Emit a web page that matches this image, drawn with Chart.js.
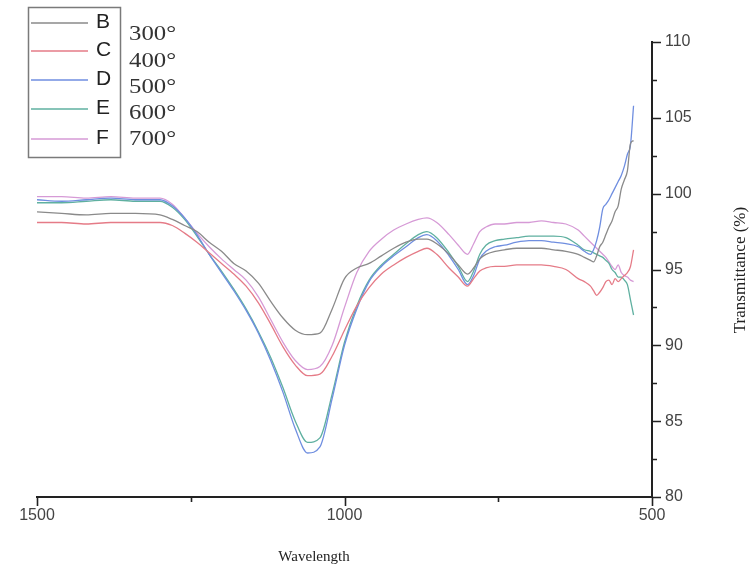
<!DOCTYPE html>
<html>
<head>
<meta charset="utf-8">
<script src="https://cdn.jsdelivr.net/npm/chart.js@4.4.1/dist/chart.umd.min.js"></script>
<style>
  html, body { margin: 0; padding: 0; background: #fff; }
  #wrap { width: 751px; height: 573px; }
</style>
</head>
<body>
<div id="wrap"><canvas id="c" width="751" height="573"></canvas></div>
<script>
'use strict';

// wavelengths (x) shared by every series
const wavelengths = [1500, 1460, 1420, 1380, 1340, 1300, 1280, 1260, 1240, 1220, 1200,
  1180, 1160, 1140, 1120, 1100, 1080, 1060, 1040, 1020, 1000,
  980, 960, 940, 920, 900, 880, 866, 850, 830, 815,
  800, 790, 780, 770, 755, 740, 720, 700, 680, 660,
  640, 620, 610, 600, 595, 590, 585, 580, 575, 570,
  565, 560, 555, 550, 545, 540, 535, 530];

const seriesB = [98.8, 98.7, 98.6, 98.7, 98.7, 98.6, 98.3, 97.9, 97.5, 96.8, 96.2,
  95.4, 94.9, 94.1, 92.9, 91.8, 91.0, 90.7, 90.8, 92.4, 94.4,
  95.1, 95.4, 95.9, 96.4, 96.8, 97.0, 97.0, 96.7, 96.0, 95.3,
  94.7, 95.1, 95.7, 96.0, 96.2, 96.3, 96.4, 96.4, 96.4, 96.3,
  96.2, 96.0, 95.8, 95.6, 95.5, 95.9, 96.5, 96.8, 97.3, 97.8,
  98.2, 98.8, 99.2, 100.3, 100.9, 101.5, 103.3, 103.5];

const seriesC = [98.1, 98.1, 98.0, 98.1, 98.1, 98.1, 97.9, 97.4, 96.8, 96.1, 95.4,
  94.7, 93.9, 92.8, 91.4, 89.9, 88.7, 88.0, 88.1, 89.3, 91.0,
  92.6, 93.8, 94.7, 95.3, 95.8, 96.2, 96.4, 96.0, 95.1, 94.5,
  93.9, 94.4, 94.9, 95.1, 95.2, 95.2, 95.3, 95.3, 95.3, 95.2,
  95.0, 94.4, 94.2, 93.9, 93.6, 93.3, 93.5, 93.8, 94.2, 94.3,
  94.0, 94.4, 94.2, 94.4, 94.6, 94.8, 95.2, 96.3];

const seriesD = [99.6, 99.5, 99.6, 99.7, 99.6, 99.6, 99.2, 98.4, 97.3, 96.0, 94.8,
  93.6, 92.3, 90.8, 89.0, 86.9, 84.5, 82.9, 83.3, 86.5, 90.0,
  92.4, 94.2, 95.2, 95.9, 96.5, 97.1, 97.3, 96.9, 95.9, 95.0,
  94.0, 94.6, 95.7, 96.2, 96.5, 96.6, 96.8, 96.9, 96.9, 96.8,
  96.7, 96.5, 96.2, 96.0, 96.3, 96.9, 97.8, 99.0, 99.3, 99.6,
  100.0, 100.4, 100.8, 101.2, 101.8, 102.6, 103.2, 105.8];

const seriesE = [99.4, 99.4, 99.5, 99.6, 99.5, 99.5, 99.1, 98.3, 97.2, 96.0, 94.9,
  93.7, 92.4, 90.9, 89.2, 87.2, 85.0, 83.6, 83.9, 86.8, 90.2,
  92.6, 94.3, 95.3, 96.0, 96.7, 97.3, 97.5, 97.1, 96.1, 95.2,
  94.2, 94.9, 96.0, 96.6, 96.9, 97.0, 97.1, 97.2, 97.2, 97.2,
  97.1, 96.6, 96.3, 96.2, 96.1, 96.0, 95.9, 95.8, 95.6, 95.4,
  95.0, 94.8, 94.5, 94.5, 94.3, 94.0, 93.0, 92.0];

const seriesF = [99.8, 99.8, 99.7, 99.8, 99.7, 99.7, 99.3, 98.4, 97.4, 96.5, 95.7,
  95.0, 94.3, 93.2, 91.7, 90.2, 89.0, 88.4, 88.6, 90.0, 92.5,
  94.8, 96.2, 97.0, 97.6, 98.0, 98.3, 98.4, 98.1, 97.3, 96.6,
  96.0, 96.7, 97.5, 97.8, 98.0, 98.0, 98.1, 98.1, 98.2, 98.1,
  98.0, 97.6, 97.2, 96.8, 96.6, 96.4, 96.2, 96.0, 95.8, 95.5,
  95.2, 95.0, 95.3, 94.8, 94.6, 94.5, 94.3, 94.2];

const seriesNames = ['B', 'C', 'D', 'E', 'F'];
const seriesTemps = ['300°', '400°', '500°', '600°', '700°'];
const seriesColors = ['#8a8a8a', '#e57b87', '#6f8ee0', '#5fb0a0', '#d69ad6'];

const xLabels = [1500, 1000, 500];
const yLabels = [80, 85, 90, 95, 100, 105, 110];

const allSeries = [seriesB, seriesC, seriesD, seriesE, seriesF];

const datasets = allSeries.map((vals, i) => ({
  label: seriesNames[i],
  data: wavelengths.map((w, j) => ({ x: w, y: vals[j] })),
  borderColor: seriesColors[i],
  borderWidth: 1.3,
  pointRadius: 0,
  fill: false,
  cubicInterpolationMode: 'monotone'
}));

// tick marks, legend box and axis titles
const extras = {
  id: 'extras',
  afterDraw(chart) {
    const { ctx, scales: { x, y } } = chart;
    ctx.save();
    ctx.strokeStyle = '#222';
    ctx.lineWidth = 1.6;
    ctx.beginPath();
    x.ticks.forEach(t => {
      const px = Math.round(x.getPixelForValue(t.value)) + 0.5;
      const len = xLabels.includes(t.value) ? 9 : 5;
      ctx.moveTo(px, x.top);
      ctx.lineTo(px, x.top + len);
    });
    y.ticks.forEach(t => {
      const py = Math.round(y.getPixelForValue(t.value)) + 0.5;
      const len = yLabels.includes(t.value) ? 9 : 5;
      ctx.moveTo(y.left, py);
      ctx.lineTo(y.left + len, py);
    });
    ctx.stroke();

    // legend
    ctx.strokeStyle = '#7a7a7a';
    ctx.lineWidth = 1.5;
    ctx.strokeRect(28.5, 7.5, 92, 150);
    const rows = [23, 51, 80, 109, 139];
    const tempRows = [34, 61, 87, 113, 139];
    chart.data.datasets.forEach((ds, i) => {
      ctx.strokeStyle = ds.borderColor;
      ctx.lineWidth = 1.5;
      ctx.beginPath();
      ctx.moveTo(31, rows[i]);
      ctx.lineTo(88, rows[i]);
      ctx.stroke();
      ctx.fillStyle = '#222';
      ctx.textBaseline = 'middle';
      ctx.textAlign = 'left';
      ctx.font = '21px "Liberation Sans"';
      ctx.fillText(ds.label, 96, rows[i] - 1);
      ctx.save();
      ctx.translate(129, tempRows[i]);
      ctx.scale(1.18, 1);
      ctx.fillStyle = '#333';
      ctx.font = '21px "Liberation Serif"';
      ctx.fillText(seriesTemps[i], 0, 0);
      ctx.restore();
    });

    // axis titles
    ctx.fillStyle = '#222';
    ctx.font = '15px "Liberation Serif"';
    ctx.textAlign = 'center';
    ctx.textBaseline = 'middle';
    ctx.fillText('Wavelength', 314, 557);
    ctx.translate(741, 270);
    ctx.rotate(-Math.PI / 2);
    ctx.font = '17px "Liberation Serif"';
    ctx.fillText('Transmittance (%)', 0, 0);
    ctx.restore();
  }
};

new Chart(document.getElementById('c').getContext('2d'), {
  type: 'line',
  data: { datasets },
  plugins: [extras],
  options: {
    responsive: false,
    animation: false,
    devicePixelRatio: 1,
    layout: { padding: { left: 37, top: 42, right: 0, bottom: 0 } },
    plugins: { legend: { display: false }, tooltip: { enabled: false } },
    scales: {
      x: {
        type: 'linear',
        reverse: true,
        min: 500,
        max: 1500,
        afterFit(scale) { scale.height = 76; },
        grid: { display: false, drawTicks: false },
        border: { display: true, color: '#222', width: 2 },
        ticks: {
          stepSize: 250,
          autoSkip: false,
          maxRotation: 0,
          padding: 9,
          color: '#444',
          font: { family: 'Liberation Sans', size: 16 },
          callback: v => (xLabels.includes(v) ? String(v) : '')
        }
      },
      y: {
        type: 'linear',
        position: 'right',
        min: 80,
        max: 110,
        afterFit(scale) { scale.width = 99; },
        grid: { display: false, drawTicks: false },
        border: { display: true, color: '#222', width: 2 },
        ticks: {
          stepSize: 2.5,
          autoSkip: false,
          padding: 13,
          color: '#444',
          font: { family: 'Liberation Sans', size: 16 },
          callback: v => (yLabels.includes(v) ? String(v) : '')
        }
      }
    }
  }
});
</script>
</body>
</html>
